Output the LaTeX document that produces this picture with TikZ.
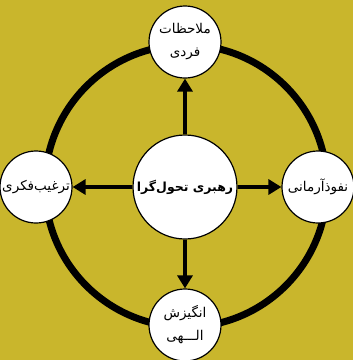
\documentclass[tikz,border=0pt]{standalone}
\usepackage{fontspec}
\newfontfamily\arabicfont[Script=Arabic]{DejaVu Sans}
\TeXXeTstate=1
\usetikzlibrary{arrows.meta}
\definecolor{bgolive}{RGB}{201,182,44}
\tikzset{
  sat/.style={circle, draw=black, line width=1.2pt, fill=white, minimum size=72pt, inner sep=0pt, align=center, font=\arabicfont\fontsize{13.5}{23}\selectfont},
  hub/.style={circle, draw=black, line width=1.2pt, fill=white, minimum size=104pt, inner sep=0pt, align=center, font=\arabicfont\bfseries\fontsize{12.5}{16}\selectfont},
  ring/.style={line width=7pt, draw=black},
  spoke/.style={line width=4pt, -{Triangle[length=13pt,width=15pt]}, shorten >=0pt}
}
\begin{document}
\begin{tikzpicture}[x=1pt,y=-1pt]
\fill[bgolive] (0,0) rectangle (353,360);
\useasboundingbox (0,0) rectangle (353,360);
\draw[ring] (186,186) circle[radius=141];
\node[hub] (c) at (185,187) {\beginR رهبری تحول‌گرا\endR};
\node[sat] (t) at (185,42) {\beginR ملاحظات\endR\\ \beginR فردی\endR};
\node[sat] (l) at (36,187) {\beginR ترغیب‌فکری\endR};
\node[sat] (r) at (318,187) {\beginR نفوذآرمانی\endR};
\node[sat] (b) at (185,325) {\beginR انگیزش\endR\\ \beginR الـــهی\endR};
\draw[spoke] (c.north) -- (t.south);
\draw[spoke] (c.west) -- (l.east);
\draw[spoke] (c.east) -- (r.west);
\draw[spoke] (c.south) -- (b.north);
\end{tikzpicture}
\end{document}
